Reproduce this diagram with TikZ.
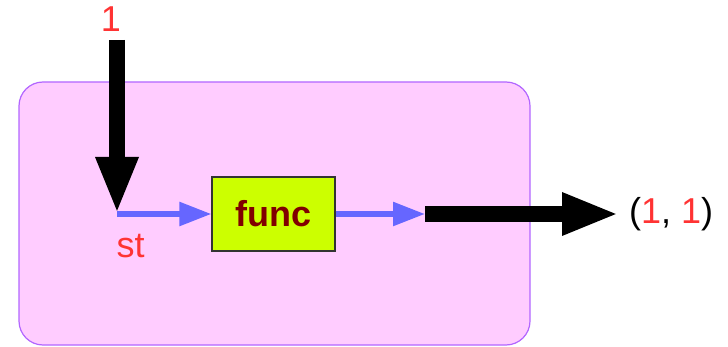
\documentclass[tikz,border=0pt]{standalone}
\usepackage{fontspec}
\setmainfont{Liberation Sans}
\usetikzlibrary{arrows.meta}
\definecolor{pinkfill}{HTML}{FFCCFF}
\definecolor{pinkline}{HTML}{B266FF}
\definecolor{funcfill}{HTML}{CCFF00}
\definecolor{funcline}{HTML}{333333}
\definecolor{functext}{HTML}{800000}
\definecolor{redtext}{HTML}{FF3333}
\definecolor{bluearr}{HTML}{6666FF}
\tikzset{
  bigfont/.style={font=\fontsize{36}{40}\selectfont},
  lbl/.style={bigfont, inner sep=0pt, anchor=base},
  blackarrow/.style={draw=black, line width=16pt, -{Triangle[width=39pt,length=57pt]}},
  bluearrow/.style={draw=bluearr, line width=5.5pt, -{Triangle[width=23pt,length=32pt]}},
  funcbox/.style={draw=funcline, line width=1.2pt, fill=funcfill, minimum width=123pt, minimum height=74pt, inner sep=0pt},
}
\begin{document}
\begin{tikzpicture}[x=1pt,y=-1pt]
\useasboundingbox (0,0) rectangle (728,347);
\draw[draw=pinkline, fill=pinkfill, line width=1.2pt, rounded corners=24pt] (19,82) rectangle (530,345);
\coordinate (top) at (117,40);
\coordinate (st) at (117,214);
\node[funcbox] (func) at (273.5,214) {};
\node[lbl, text=functext, font=\fontsize{36}{40}\selectfont\bfseries] (functxt) at (273.5,227) {func};
\coordinate (outp) at (425,214);
\coordinate (end) at (619,214);
\node[lbl, text=redtext] (one) at (111,32) {1};
\node[lbl, text=redtext] (stl) at (130.5,258) {st};
\node[lbl, anchor=base west] (res) at (629,224) {(\textcolor{redtext}{1}, \textcolor{redtext}{1})};
\draw[bluearrow] (st) -- (func.west);
\draw[bluearrow] (func.east) -- (outp);
\draw[blackarrow] (top) -- (st);
\draw[blackarrow] (outp) -- (end);
\end{tikzpicture}
\end{document}
